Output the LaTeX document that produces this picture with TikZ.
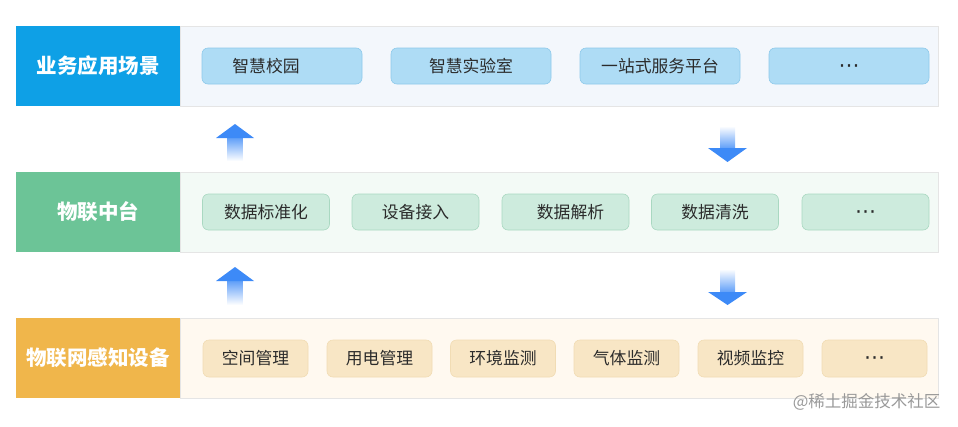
\documentclass[tikz,border=0pt]{standalone}
\usepackage{fontspec}
\setmainfont{Noto Sans CJK SC}
\newfontfamily\dotsfont{DejaVu Sans}
\usepackage{tikz}
\definecolor{bizblue}{HTML}{0EA0E6}
\definecolor{bizband}{HTML}{F3F7FC}
\definecolor{bizpill}{HTML}{AEDCF5}
\definecolor{bizline}{HTML}{8EC9EA}
\definecolor{midgreen}{HTML}{6CC497}
\definecolor{midband}{HTML}{F3FAF6}
\definecolor{midpill}{HTML}{CDEBDD}
\definecolor{midline}{HTML}{A9D8C1}
\definecolor{devorange}{HTML}{F0B64B}
\definecolor{devband}{HTML}{FFF9F0}
\definecolor{devpill}{HTML}{F8E6C5}
\definecolor{devline}{HTML}{F1DCB4}
\definecolor{flowblue}{HTML}{3D8AF7}
\definecolor{pilltext}{HTML}{2B2B2B}
\newcommand{\moredots}{\raisebox{-6pt}[0pt][0pt]{\dotsfont\fontsize{21}{22}\selectfont ⋯}}
\tikzset{
  layerlabel/.style={shape=rectangle, minimum width=164pt, minimum height=80pt, inner sep=0pt,
    text=white, font=\fontsize{20.5}{22}\selectfont\bfseries},
  layerband/.style={shape=rectangle, draw=black!10, line width=0.6pt, minimum width=758pt,
    minimum height=80pt, inner sep=0pt},
  pill/.style={shape=rectangle, rounded corners=6pt, line width=0.6pt, minimum height=36pt,
    inner sep=0pt, text=pilltext, font=\fontsize{16.8}{18}\selectfont},
  bizpillbox/.style={pill, fill=bizpill, draw=bizline, minimum width=160pt},
  midpillbox/.style={pill, fill=midpill, draw=midline, minimum width=127pt},
  devpillbox/.style={pill, fill=devpill, draw=devline, minimum width=105pt, minimum height=37pt},
}
\begin{document}
\begin{tikzpicture}[x=1pt, y=-1pt]
    \useasboundingbox (0,0) rectangle (958,426);

    % business scenes
    \node[layerband, fill=bizband] (bizband) at (559, 66) {};
    \node[layerlabel, fill=bizblue] (biz) at (98, 66) {业务应用场景};
    \node[bizpillbox] (campus) at (282, 66) {智慧校园\hspace*{32pt}};
    \node[bizpillbox] (lab) at (471, 66) {智慧实验室};
    \node[bizpillbox] (portal) at (660, 66) {一站式服务平台};
    \node[bizpillbox] (bizmore) at (849, 66) {\moredots};

    % middle platform
    \node[layerband, fill=midband] (midband) at (559, 212) {};
    \node[layerlabel, fill=midgreen] (mid) at (98, 212) {物联中台};
    \node[midpillbox] (norm) at (266, 212) {数据标准化};
    \node[midpillbox] (access) at (415.5, 212) {设备接入};
    \node[midpillbox] (parse) at (565.5, 212) {\hspace*{10pt}数据解析};
    \node[midpillbox] (clean) at (715, 212) {数据清洗};
    \node[midpillbox] (midmore) at (865.5, 212) {\moredots};

    % sensing devices
    \node[layerband, fill=devband] (devband) at (559, 358) {};
    \node[layerlabel, fill=devorange] (dev) at (98, 358) {物联网感知设备};
    \node[devpillbox] (space) at (255.5, 358.5) {空间管理};
    \node[devpillbox] (power) at (379.5, 358.5) {用电管理};
    \node[devpillbox] (env) at (503, 358.5) {环境监测};
    \node[devpillbox] (gas) at (626.5, 358.5) {气体监测};
    \node[devpillbox] (video) at (750.5, 358.5) {视频监控};
    \node[devpillbox] (devmore) at (874.5, 358.5) {\moredots};

    % flow arrows
    \shade[top color=flowblue!85, bottom color=white] (227.5,137) rectangle (242.5,161);
    \fill[flowblue] (216,138) -- (235,124) -- (254,138) -- cycle;
    \shade[top color=white, bottom color=flowblue!85] (720,126) rectangle (735,149);
    \fill[flowblue] (708,148) -- (727.5,162) -- (747,148) -- cycle;

    \shade[top color=flowblue!85, bottom color=white] (227.5,280) rectangle (242.5,305);
    \fill[flowblue] (216,281) -- (235,267) -- (254,281) -- cycle;
    \shade[top color=white, bottom color=flowblue!85] (720,269) rectangle (735,293);
    \fill[flowblue] (708,292) -- (727.5,305) -- (747,292) -- cycle;

    \node[text=black!40, font=\fontsize{16.5}{18}\selectfont, anchor=east] (mark) at (944, 402) {@稀土掘金技术社区};
\end{tikzpicture}
\end{document}
